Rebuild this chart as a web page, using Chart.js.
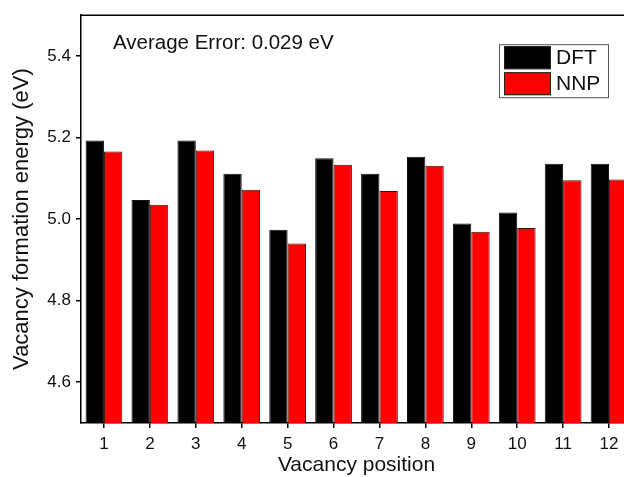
<!DOCTYPE html>
<html>
<head>
<meta charset="utf-8">
<script src="https://cdn.jsdelivr.net/npm/chart.js@4/dist/chart.umd.min.js"></script>
<style>
html,body{margin:0;padding:0;background:#fff;overflow:hidden;width:624px;height:477px;}
canvas{display:block;}
</style>
</head>
<body>
<canvas id="c" width="632" height="477"></canvas>
<script>
const categories = ["1","2","3","4","5","6","7","8","9","10","11","12"];
const dftValues = [5.193, 5.047, 5.193, 5.111, 4.974, 5.149, 5.111, 5.153, 4.989, 5.016, 5.136, 5.136];
const nnpValues = [5.166, 5.035, 5.168, 5.072, 4.940, 5.133, 5.069, 5.131, 4.969, 4.978, 5.095, 5.097];
const yTicks = [4.6, 4.8, 5.0, 5.2, 5.4];
const annotationText = "Average Error: 0.029 eV";

const FONT = "'Liberation Sans', Arial, sans-serif";

const framePlugin = {
  id: 'frame',
  afterDraw(chart) {
    const {ctx, chartArea: a} = chart;
    ctx.save();
    ctx.strokeStyle = '#000';
    ctx.lineWidth = 1.5;
    ctx.beginPath();
    ctx.moveTo(a.left, a.top);
    ctx.lineTo(a.right, a.top);
    ctx.lineTo(a.right, a.bottom);
    ctx.stroke();
    // annotation
    ctx.fillStyle = '#111';
    ctx.font = '20.5px ' + FONT;
    ctx.textBaseline = 'middle';
    ctx.textAlign = 'left';
    ctx.fillText(annotationText, a.left + 32, a.top + 28);
    // legend
    const bx = a.left + 418, by = a.top + 29, bw = 109, bh = 53;
    ctx.fillStyle = '#fff';
    ctx.fillRect(bx, by, bw, bh);
    ctx.strokeStyle = '#555';
    ctx.lineWidth = 1;
    ctx.strokeRect(bx + 0.5, by + 0.5, bw, bh);
    chart.data.datasets.forEach((ds, i) => {
      const sy = by + 2 + i * 26;
      ctx.fillStyle = ds.backgroundColor;
      ctx.fillRect(bx + 5, sy, 47, 23);
      ctx.strokeStyle = '#222';
      ctx.strokeRect(bx + 5.5, sy + 0.5, 46, 22);
      ctx.fillStyle = '#111';
      ctx.font = '21px ' + FONT;
      ctx.textBaseline = 'middle';
      ctx.fillText(ds.label, bx + 57, sy + 12);
    });
    ctx.restore();
  }
};

new Chart(document.getElementById('c'), {
  type: 'bar',
  data: {
    labels: categories,
    datasets: [
      {label: 'DFT', data: dftValues, backgroundColor: '#000000', borderColor: '#111', borderWidth: 1, borderSkipped: 'start'},
      {label: 'NNP', data: nnpValues, backgroundColor: '#ff0000', borderColor: '#3a1010', borderWidth: 1, borderSkipped: 'start'}
    ]
  },
  options: {
    responsive: false,
    animation: false,
    events: [],
    layout: {padding: {left: 0, right: 0, top: 14, bottom: 0}},
    datasets: {bar: {categoryPercentage: 0.8, barPercentage: 1.0}},
    plugins: {legend: {display: false}, tooltip: {enabled: false}},
    scales: {
      x: {
        offset: true,
        grid: {display: true, drawOnChartArea: false, drawTicks: true, tickLength: 5, color: '#000', lineWidth: 1.5, offset: false},
        border: {display: true, color: '#000', width: 1.5},
        ticks: {color: '#111', font: {family: FONT, size: 17}, padding: 6, maxRotation: 0, autoSkip: false},
        title: {display: true, text: 'Vacancy position', color: '#111', font: {family: FONT, size: 21}, padding: {top: 0, bottom: -1}},
        afterFit(s) { s.height = 54; }
      },
      y: {
        min: 4.5, max: 5.5,
        afterBuildTicks(s) { s.ticks = yTicks.map(v => ({value: v})); },
        grid: {display: true, drawOnChartArea: false, drawTicks: true, tickLength: 5, color: '#000', lineWidth: 1.5},
        border: {display: true, color: '#000', width: 1.5},
        ticks: {color: '#111', font: {family: FONT, size: 17}, padding: 5, callback: v => Number(v).toFixed(1)},
        title: {display: true, text: 'Vacancy formation energy (eV)', color: '#111', font: {family: FONT, size: 22}, padding: {top: 9, bottom: 0}},
        afterFit(s) { s.width = 81; }
      }
    }
  },
  plugins: [framePlugin]
});
</script>
</body>
</html>
